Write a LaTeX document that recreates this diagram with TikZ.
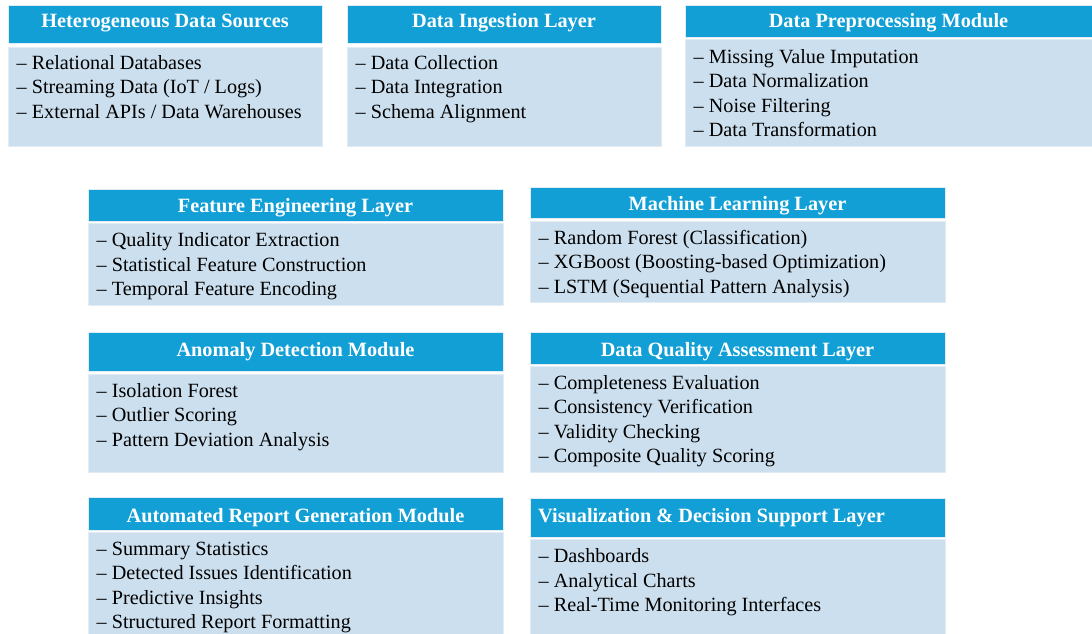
\documentclass[tikz,border=0pt]{standalone}
\usepackage{fontspec}
\setmainfont{Liberation Serif}
\definecolor{hdr}{RGB}{17,159,214}
\definecolor{bdy}{RGB}{204,223,238}
\definecolor{edge}{RGB}{225,236,245}
\tikzset{
  hdrbox/.style={fill=hdr, draw=edge, line width=0.6pt},
  bdybox/.style={fill=bdy, draw=edge, line width=0.6pt},
  hdrtext/.style={text=white, font=\bfseries\fontsize{20.3}{24}\selectfont, inner sep=0pt},
  bdytext/.style={text=black, font=\fontsize{20.2}{24.4}\selectfont, inner sep=0pt, align=left, anchor=north west},
}
% #1 name, #2 x1, #3 x2, #4 hy1, #5 hy2, #6 by1, #7 by2, #8 title, #9 title baseline
\newcommand{\myblock}[9]{%
  \path[hdrbox] (#2,#4) rectangle (#3,#5);
  \path[bdybox] (#2,#6) rectangle (#3,#7);
  \node[hdrtext, anchor=base] (#1-t) at ({(#2+#3)/2},#9) {#8};
}
\newcommand{\mybody}[4]{% name, x, first baseline, text
  \node[bdytext] (#1-b) at (#2+8.5,#3-17.08) {\strut#4};
}
\begin{document}
\begin{tikzpicture}[x=1pt,y=-1pt]
\useasboundingbox (0,0) rectangle (1092,634);
% Row 1
\myblock{src}{8}{322}{5}{43}{47}{146}{Heterogeneous Data Sources}{28}
\mybody{src}{8}{69}{-- Relational Databases\\-- Streaming Data (IoT / Logs)\\-- External APIs / Data Warehouses}
\myblock{ing}{347}{661}{5}{43}{47}{146}{Data Ingestion Layer}{28}
\mybody{ing}{347}{69}{-- Data Collection\\-- Data Integration\\-- Schema Alignment}
\myblock{pre}{685}{1092}{5}{37}{39}{146}{Data Preprocessing Module}{28}
\mybody{pre}{685}{63.3}{-- Missing Value Imputation\\-- Data Normalization\\-- Noise Filtering\\-- Data Transformation}
% Row 2
\myblock{fe}{88}{503}{189}{221}{223}{305}{Feature Engineering Layer}{212}
\mybody{fe}{88}{246.7}{-- Quality Indicator Extraction\\-- Statistical Feature Construction\\-- Temporal Feature Encoding}
\myblock{ml}{530}{945}{187}{218}{221}{302}{Machine Learning Layer}{210}
\mybody{ml}{530}{244}{-- Random Forest (Classification)\\-- XGBoost (Boosting-based Optimization)\\-- LSTM (Sequential Pattern Analysis)}
% Row 3
\myblock{ad}{88}{503}{332}{371}{374}{472}{Anomaly Detection Module}{356}
\mybody{ad}{88}{397}{-- Isolation Forest\\-- Outlier Scoring\\-- Pattern Deviation Analysis}
\myblock{dq}{530}{945}{332}{364}{366}{472}{Data Quality Assessment Layer}{356}
\mybody{dq}{530}{389}{-- Completeness Evaluation\\-- Consistency Verification\\-- Validity Checking\\-- Composite Quality Scoring}
% Row 4
\myblock{rg}{88}{503}{497}{530}{532}{640}{Automated Report Generation Module}{522}
\mybody{rg}{88}{555}{-- Summary Statistics\\-- Detected Issues Identification\\-- Predictive Insights\\-- Structured Report Formatting}
\path[hdrbox] (530,498) rectangle (945,537);
\path[bdybox] (530,539) rectangle (945,640);
\node[hdrtext, anchor=base west] (viz-t) at (538,522) {Visualization \& Decision Support Layer};
\mybody{viz}{530}{562.7}{-- Dashboards\\-- Analytical Charts\\-- Real-Time Monitoring Interfaces}
\end{tikzpicture}
\end{document}
